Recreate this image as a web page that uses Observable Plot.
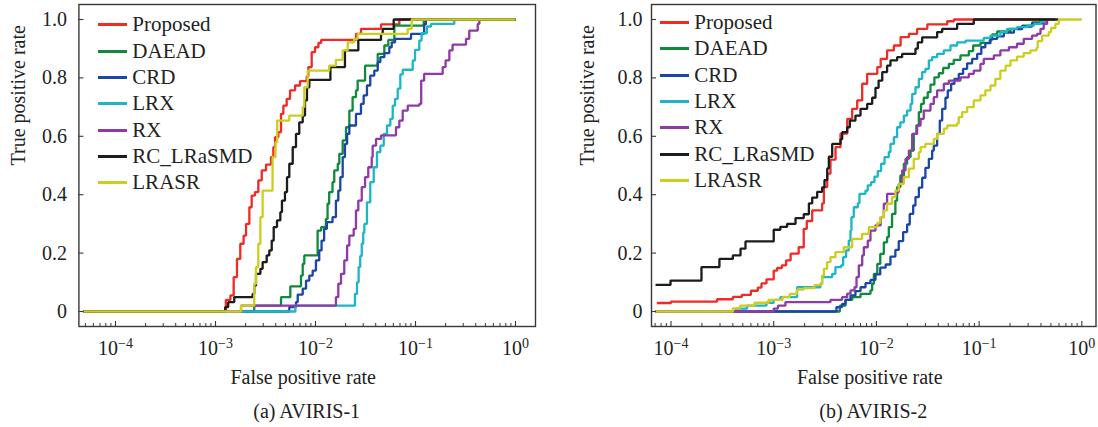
<!DOCTYPE html>
<html>
<head>
<meta charset="utf-8">
<script src="https://cdn.jsdelivr.net/npm/d3@7"></script>
<script src="https://cdn.jsdelivr.net/npm/@observablehq/plot@0.6"></script>
<style>
  html, body { margin: 0; padding: 0; background: #fff; }
  #chart { position: relative; width: 1098px; height: 427px; font-family: "Liberation Serif", "Times New Roman", serif; color: #222; overflow: hidden; }
  .panel { position: absolute; top: 0; }
  .panel svg { display: block; overflow: visible; }
  .legend { position: absolute; }
  .legend .row { display: flex; align-items: center; height: 26.33px; font-size: 21px; white-space: nowrap; }
  .legend .swatch { width: 28.5px; height: 3px; margin-right: 5.8px; flex: none; }
  .caption { position: absolute; top: 399px; text-align: center; font-size: 20px; line-height: 24px; white-space: nowrap; }
</style>
</head>
<body>
<div id="chart"></div>
<script>
// Detection methods, in legend (and drawing) order
const methods = ["Proposed", "DAEAD", "CRD", "LRX", "RX", "RC_LRaSMD", "LRASR"];
const colors  = ["#ee2b24", "#0e8a3d", "#1b46a6", "#1cb6c6", "#8f3aa7", "#1c1c1c", "#cdcd1f"];

const xMajorTicks = [1e-4, 1e-3, 1e-2, 1e-1, 1];
const yTicks = [0, 0.2, 0.4, 0.6, 0.8, 1.0];
const yTickLabels = ["0", "0.2", "0.4", "0.6", "0.8", "1.0"];
const minorMantissas = [2, 3, 4, 5, 6, 7, 8, 9];
const minorDecades = [1e-5, 1e-4, 1e-3, 1e-2, 1e-1];

const xTitle = "False positive rate";
const yTitle = "True positive rate";
const captions = ["(a) AVIRIS-1", "(b) AVIRIS-2"];

// ROC curves, [false positive rate, true positive rate]
// (a) AVIRIS-1
const aviris1Proposed = [[4.8e-5,0],[1.27e-3,0.04],[1.41e-3,0.055],[1.52e-3,0.118],[1.64e-3,0.18],[1.77e-3,0.232],[1.91e-3,0.26],[2.02e-3,0.30],[2.18e-3,0.357],[2.30e-3,0.397],[2.48e-3,0.409],[2.68e-3,0.449],[2.90e-3,0.483],[3.20e-3,0.503],[3.59e-3,0.529],[3.79e-3,0.563],[3.94e-3,0.597],[4.25e-3,0.614],[4.52e-3,0.677],[4.77e-3,0.705],[5.15e-3,0.728],[5.56e-3,0.757],[6.24e-3,0.774],[7.00e-3,0.789],[8.17e-3,0.805],[8.48e-3,0.837],[9.16e-3,0.888],[9.89e-3,0.905],[1.07e-2,0.92],[1.14e-2,0.93],[2.54e-2,0.951],[2.85e-2,0.968],[4.52e-2,0.983],[6.89e-2,1],[1,1]];
const aviris1DAEAD = [[4.8e-5,0],[2.44e-3,0.02],[4.52e-3,0.049],[5.60e-3,0.086],[7.16e-3,0.123],[7.45e-3,0.163],[7.73e-3,0.192],[1.05e-2,0.277],[1.14e-2,0.289],[1.27e-2,0.317],[1.32e-2,0.369],[1.37e-2,0.409],[1.48e-2,0.443],[1.54e-2,0.483],[1.67e-2,0.506],[1.73e-2,0.54],[1.87e-2,0.586],[2.02e-2,0.631],[2.18e-2,0.688],[2.35e-2,0.734],[2.54e-2,0.757],[2.64e-2,0.791],[3.13e-2,0.842],[4.19e-2,0.882],[4.88e-2,0.911],[5.35e-2,0.93],[6.14e-2,0.979],[0.121,1],[1,1]];
const aviris1CRD = [[4.8e-5,0],[5.47e-3,0.015],[6.38e-3,0.032],[6.64e-3,0.058],[7.45e-3,0.078],[8.04e-3,0.106],[8.67e-3,0.123],[9.37e-3,0.14],[1.01e-2,0.175],[1.09e-2,0.209],[1.15e-2,0.243],[1.22e-2,0.283],[1.30e-2,0.306],[1.48e-2,0.323],[1.60e-2,0.38],[1.69e-2,0.414],[1.77e-2,0.46],[1.87e-2,0.529],[1.97e-2,0.574],[2.07e-2,0.608],[2.18e-2,0.637],[2.54e-2,0.677],[2.85e-2,0.711],[3.03e-2,0.74],[3.27e-2,0.774],[3.53e-2,0.808],[3.87e-2,0.825],[4.19e-2,0.854],[4.45e-2,0.871],[4.88e-2,0.885],[5.47e-2,0.905],[5.78e-2,0.922],[6.24e-2,0.934],[9.02e-2,0.951],[0.122,0.983],[0.127,1],[1,1]];
const aviris1LRX = [[4.8e-5,0],[6.30e-3,0.02],[2.48e-2,0.06],[2.60e-2,0.10],[2.70e-2,0.152],[2.80e-2,0.19],[2.90e-2,0.232],[3.00e-2,0.27],[3.08e-2,0.30],[3.27e-2,0.374],[3.53e-2,0.443],[3.82e-2,0.494],[4.12e-2,0.546],[4.45e-2,0.568],[4.81e-2,0.608],[5.19e-2,0.637],[5.60e-2,0.66],[5.92e-2,0.705],[6.24e-2,0.728],[6.64e-2,0.763],[7.05e-2,0.812],[7.45e-2,0.828],[9.38e-2,0.86],[9.89e-2,0.896],[0.109,0.928],[0.115,0.953],[0.130,0.976],[0.143,0.985],[0.244,1],[1,1]];
const aviris1RX = [[4.8e-5,0],[1.80e-3,0.02],[1.60e-2,0.049],[1.69e-2,0.095],[1.80e-2,0.129],[1.94e-2,0.175],[2.07e-2,0.226],[2.18e-2,0.26],[2.41e-2,0.283],[2.54e-2,0.346],[2.68e-2,0.38],[2.90e-2,0.426],[3.13e-2,0.46],[3.37e-2,0.494],[3.65e-2,0.529],[3.73e-2,0.568],[4.03e-2,0.591],[4.52e-2,0.603],[6.38e-2,0.631],[6.89e-2,0.654],[7.45e-2,0.688],[8.36e-2,0.705],[0.109,0.711],[0.114,0.791],[0.122,0.814],[0.187,0.837],[0.200,0.86],[0.218,0.894],[0.235,0.914],[0.320,0.934],[0.345,0.962],[0.419,0.985],[0.435,1],[1,1]];
const aviris1RCLRaSMD = [[4.8e-5,0],[1.25e-3,0.015],[1.34e-3,0.032],[1.54e-3,0.049],[2.35e-3,0.06],[2.44e-3,0.089],[2.54e-3,0.129],[2.81e-3,0.146],[2.96e-3,0.169],[3.25e-3,0.192],[3.45e-3,0.209],[3.65e-3,0.243],[3.82e-3,0.289],[4.12e-3,0.312],[4.45e-3,0.34],[4.62e-3,0.38],[4.95e-3,0.409],[5.19e-3,0.46],[5.47e-3,0.506],[5.92e-3,0.563],[6.38e-3,0.608],[6.88e-3,0.648],[7.45e-3,0.671],[7.85e-3,0.723],[8.22e-3,0.768],[8.67e-3,0.793],[1.41e-2,0.837],[1.97e-2,0.894],[2.68e-2,0.93],[4.52e-2,0.951],[4.70e-2,0.968],[6.05e-2,1],[1,1]];
const aviris1LRASR = [[4.8e-5,0],[1.80e-3,0.02],[2.44e-3,0.095],[2.54e-3,0.152],[2.68e-3,0.232],[2.81e-3,0.323],[2.96e-3,0.414],[3.72e-3,0.529],[3.98e-3,0.58],[4.14e-3,0.654],[5.47e-3,0.671],[7.45e-3,0.70],[7.73e-3,0.768],[8.35e-3,0.825],[1.37e-2,0.842],[1.60e-2,0.862],[1.87e-2,0.894],[2.10e-2,0.922],[2.44e-2,0.934],[2.64e-2,0.951],[8.36e-2,0.968],[9.16e-2,1],[1,1]];

// (b) AVIRIS-2
const aviris2Proposed = [[7.28e-5,0.029],[1.0e-4,0.034],[2.81e-4,0.042],[4.0e-4,0.05],[4.9e-4,0.057],[6.0e-4,0.071],[7.0e-4,0.082],[7.6e-4,0.096],[8.5e-4,0.11],[1.0e-3,0.14],[1.08e-3,0.149],[1.2e-3,0.158],[1.32e-3,0.175],[1.46e-3,0.198],[1.75e-3,0.22],[1.96e-3,0.283],[2.1e-3,0.31],[2.37e-3,0.346],[2.96e-3,0.37],[3.08e-3,0.426],[3.32e-3,0.472],[3.57e-3,0.52],[4.0e-3,0.563],[4.47e-3,0.609],[5.2e-3,0.66],[5.81e-3,0.694],[6.5e-3,0.723],[7.27e-3,0.78],[8.13e-3,0.814],[1.02e-2,0.837],[1.10e-2,0.865],[1.27e-2,0.894],[1.48e-2,0.911],[1.72e-2,0.94],[2.07e-2,0.951],[2.49e-2,0.968],[3.13e-2,0.983],[4.89e-2,0.994],[5.68e-2,1],[0.55,1]];
const aviris2DAEAD = [[7.07e-5,0],[4.4e-3,0.02],[5.0e-3,0.04],[5.81e-3,0.049],[7.0e-3,0.06],[8.75e-3,0.072],[9.09e-3,0.095],[9.44e-3,0.129],[1.02e-2,0.163],[1.09e-2,0.197],[1.18e-2,0.237],[1.27e-2,0.255],[1.32e-2,0.289],[1.42e-2,0.334],[1.53e-2,0.38],[1.59e-2,0.426],[1.71e-2,0.466],[1.85e-2,0.506],[1.99e-2,0.529],[2.15e-2,0.551],[2.31e-2,0.608],[2.45e-2,0.637],[2.59e-2,0.683],[2.72e-2,0.711],[2.89e-2,0.732],[3.16e-2,0.751],[3.36e-2,0.777],[3.67e-2,0.802],[4.05e-2,0.816],[4.46e-2,0.834],[5.07e-2,0.848],[5.66e-2,0.862],[6.58e-2,0.877],[7.94e-2,0.892],[8.75e-2,0.911],[0.103,0.92],[0.127,0.93],[0.134,0.949],[0.150,0.959],[0.202,0.968],[0.262,0.979],[0.328,0.99],[0.396,1]];
const aviris2CRD = [[7.07e-5,0],[4.08e-3,0.015],[4.63e-3,0.026],[5.0e-3,0.04],[5.59e-3,0.055],[6.25e-3,0.07],[7.0e-3,0.083],[7.83e-3,0.097],[8.75e-3,0.108],[9.79e-3,0.127],[1.09e-2,0.15],[1.23e-2,0.161],[1.37e-2,0.188],[1.53e-2,0.211],[1.65e-2,0.241],[1.82e-2,0.272],[1.99e-2,0.298],[2.11e-2,0.334],[2.28e-2,0.363],[2.40e-2,0.392],[2.59e-2,0.424],[2.79e-2,0.458],[3.0e-2,0.492],[3.24e-2,0.523],[3.49e-2,0.551],[3.62e-2,0.568],[3.90e-2,0.608],[4.14e-2,0.654],[4.37e-2,0.694],[4.70e-2,0.732],[4.95e-2,0.757],[5.34e-2,0.78],[5.75e-2,0.797],[6.34e-2,0.814],[6.98e-2,0.831],[7.64e-2,0.85],[8.55e-2,0.865],[9.57e-2,0.882],[0.105,0.905],[0.115,0.919],[0.129,0.934],[0.150,0.942],[0.174,0.955],[0.218,0.967],[0.262,0.976],[0.328,0.987],[0.426,1]];
const aviris2LRX = [[7.07e-5,0],[4.3e-4,0.01],[5.5e-4,0.02],[8.5e-4,0.03],[1.0e-3,0.04],[1.16e-3,0.049],[1.69e-3,0.083],[2.85e-3,0.095],[2.96e-3,0.118],[3.71e-3,0.129],[3.99e-3,0.152],[4.53e-3,0.158],[4.74e-3,0.186],[5.07e-3,0.209],[5.38e-3,0.243],[5.59e-3,0.277],[5.71e-3,0.323],[6.02e-3,0.357],[6.59e-3,0.371],[6.84e-3,0.403],[7.82e-3,0.414],[8.24e-3,0.432],[8.88e-3,0.443],[9.57e-3,0.462],[1.03e-2,0.481],[1.11e-2,0.506],[1.20e-2,0.529],[1.32e-2,0.546],[1.37e-2,0.574],[1.48e-2,0.597],[1.59e-2,0.631],[1.71e-2,0.648],[1.85e-2,0.671],[1.99e-2,0.688],[2.15e-2,0.711],[2.23e-2,0.745],[2.40e-2,0.768],[2.59e-2,0.797],[2.79e-2,0.82],[3.0e-2,0.831],[3.24e-2,0.86],[3.49e-2,0.871],[3.90e-2,0.882],[4.53e-2,0.894],[5.26e-2,0.911],[6.11e-2,0.922],[7.4e-2,0.928],[0.111,0.937],[0.129,0.945],[0.161,0.957],[0.187,0.968],[0.234,0.974],[0.294,0.979],[0.341,0.985],[0.396,0.991],[0.442,1]];
const aviris2RX = [[7.07e-5,0],[1.0e-3,0.01],[1.1e-3,0.02],[1.3e-3,0.032],[3.57e-3,0.04],[4.63e-3,0.049],[5.19e-3,0.061],[5.59e-3,0.072],[6.12e-3,0.083],[6.40e-3,0.118],[6.74e-3,0.158],[7.27e-3,0.192],[7.54e-3,0.22],[8.24e-3,0.243],[8.75e-3,0.277],[9.79e-3,0.295],[1.10e-2,0.323],[1.18e-2,0.369],[1.27e-2,0.403],[1.59e-2,0.409],[1.65e-2,0.437],[1.78e-2,0.483],[1.92e-2,0.523],[2.07e-2,0.551],[2.23e-2,0.608],[2.49e-2,0.637],[2.69e-2,0.66],[2.89e-2,0.688],[3.36e-2,0.711],[3.62e-2,0.734],[3.90e-2,0.757],[4.53e-2,0.78],[5.07e-2,0.791],[6.58e-2,0.802],[7.94e-2,0.814],[8.87e-2,0.825],[0.103,0.848],[0.111,0.865],[0.139,0.877],[0.161,0.894],[0.195,0.905],[0.234,0.917],[0.272,0.934],[0.328,0.945],[0.367,0.951],[0.396,0.968],[0.426,0.985],[0.459,1]];
const aviris2RCLRaSMD = [[7.07e-5,0.091],[9.89e-5,0.106],[1.98e-4,0.152],[2.96e-4,0.18],[4.0e-4,0.192],[4.75e-4,0.215],[5.31e-4,0.24],[1.0e-3,0.28],[1.16e-3,0.29],[1.35e-3,0.30],[1.63e-3,0.32],[1.96e-3,0.333],[2.2e-3,0.37],[2.37e-3,0.39],[2.65e-3,0.41],[2.96e-3,0.425],[3.12e-3,0.45],[3.32e-3,0.49],[3.44e-3,0.53],[3.71e-3,0.574],[4.47e-3,0.59],[4.64e-3,0.614],[5.19e-3,0.631],[5.51e-3,0.654],[6.25e-3,0.671],[7.0e-3,0.694],[8.13e-3,0.711],[9.09e-3,0.732],[9.79e-3,0.766],[1.05e-2,0.791],[1.14e-2,0.82],[1.27e-2,0.842],[1.37e-2,0.86],[1.59e-2,0.871],[1.78e-2,0.882],[2.40e-2,0.90],[2.53e-2,0.922],[2.79e-2,0.939],[3.90e-2,0.957],[4.37e-2,0.968],[6.11e-2,0.985],[8.87e-2,1],[0.59,1]];
const aviris2LRASR = [[7.07e-5,0],[4.0e-4,0.011],[4.7e-4,0.02],[6.5e-4,0.03],[8.9e-4,0.04],[1.22e-3,0.05],[1.43e-3,0.06],[1.68e-3,0.075],[1.96e-3,0.08],[2.49e-3,0.09],[2.85e-3,0.095],[2.96e-3,0.123],[3.08e-3,0.146],[3.31e-3,0.169],[3.57e-3,0.186],[3.99e-3,0.203],[4.81e-3,0.22],[5.80e-3,0.249],[7.26e-3,0.266],[8.43e-3,0.289],[1.02e-2,0.303],[1.09e-2,0.323],[1.18e-2,0.346],[1.27e-2,0.369],[1.42e-2,0.392],[1.53e-2,0.414],[1.65e-2,0.437],[1.85e-2,0.46],[2.07e-2,0.489],[2.31e-2,0.523],[2.59e-2,0.546],[2.69e-2,0.563],[3.0e-2,0.574],[3.62e-2,0.591],[3.90e-2,0.608],[4.53e-2,0.626],[4.89e-2,0.637],[6.11e-2,0.645],[6.34e-2,0.666],[6.84e-2,0.683],[7.64e-2,0.70],[8.87e-2,0.723],[0.103,0.74],[0.115,0.757],[0.129,0.774],[0.144,0.797],[0.161,0.825],[0.181,0.842],[0.202,0.86],[0.234,0.873],[0.272,0.885],[0.316,0.894],[0.362,0.903],[0.372,0.926],[0.411,0.945],[0.477,0.957],[0.502,0.971],[0.553,0.985],[0.597,1],[1,1]];

const aviris1 = [aviris1Proposed, aviris1DAEAD, aviris1CRD, aviris1LRX, aviris1RX, aviris1RCLRaSMD, aviris1LRASR];
const aviris2 = [aviris2Proposed, aviris2DAEAD, aviris2CRD, aviris2LRX, aviris2RX, aviris2RCLRaSMD, aviris2LRASR];

const SVG_NS = "http://www.w3.org/2000/svg";
const ink = "#383838";

// Turn "10^−k" tick labels into a base with a raised exponent
function raiseExponents(svg) {
  svg.querySelectorAll('g[aria-label="x-axis tick label"] text').forEach((t) => {
    const parts = t.textContent.split("^");
    if (parts.length < 2) return;
    t.textContent = parts[0];
    const sup = document.createElementNS(SVG_NS, "tspan");
    sup.setAttribute("dy", "-6.5");
    sup.setAttribute("font-size", "14");
    sup.textContent = parts[1];
    t.appendChild(sup);
  });
}

function rocPanel({series, width, marginLeft, marginRight, logDomain, yTitleOffset, yTickPadding}) {
  const height = 395, marginTop = 4, marginBottom = 69;
  const plotH = height - marginTop - marginBottom;
  const plotW = width - marginLeft - marginRight;
  const xDomain = logDomain.map((e) => Math.pow(10, e));
  const rows = methods.flatMap((m, i) => series[i].map(([fpr, tpr]) => ({method: m, fpr, tpr})));
  const minorTicks = minorDecades
    .flatMap((d) => minorMantissas.map((k) => k * d))
    .filter((v) => v >= xDomain[0] && v <= xDomain[1]);

  const svg = Plot.plot({
    width, height, marginLeft, marginRight, marginTop, marginBottom,
    style: {fontFamily: '"Liberation Serif", "Times New Roman", serif', fontSize: "20px", color: "#222", background: "transparent", overflow: "visible"},
    x: {type: "log", domain: xDomain, label: null},
    y: {domain: [-0.0514, 1.0514], label: null},
    color: {domain: methods, range: colors},
    marks: [
      Plot.line(rows, {x: "fpr", y: "tpr", z: "method", stroke: "method", curve: "step-after", strokeWidth: 2.3, strokeLinejoin: "miter", strokeLinecap: "butt"}),
      Plot.frame({stroke: ink, strokeWidth: 1.4}),
      Plot.tickX(xMajorTicks, {x: (d) => d, stroke: ink, strokeWidth: 1.1, insetTop: plotH - 5}),
      Plot.tickX(minorTicks, {x: (d) => d, stroke: ink, strokeWidth: 1, insetTop: plotH - 3}),
      Plot.tickY(yTicks, {y: (d) => d, stroke: ink, strokeWidth: 1.1, insetRight: plotW - 5}),
      Plot.axisX(xMajorTicks, {tickSize: 0, tickPadding: 14, fontSize: 20, label: null,
        tickFormat: (d) => "10^" + String(Math.round(Math.log10(d))).replace("-", "\u2212")}),
      Plot.axisY(yTicks, {tickSize: 0, tickPadding: yTickPadding, fontSize: 20, label: null,
        tickFormat: (d) => yTickLabels[yTicks.indexOf(d)]}),
      Plot.text([xTitle], {text: (d) => d, frameAnchor: "bottom", dy: 51, dx: -4, fontSize: 20, lineAnchor: "middle", fill: "#222"}),
      Plot.text([yTitle], {text: (d) => d, frameAnchor: "left", dx: yTitleOffset, rotate: -90, fontSize: 20, lineAnchor: "middle", fill: "#222"})
    ]
  });
  raiseExponents(svg);
  return svg;
}

function legendBox(left, top) {
  const box = document.createElement("div");
  box.className = "legend";
  box.style.left = left + "px";
  box.style.top = top + "px";
  methods.forEach((m, i) => {
    const row = document.createElement("div");
    row.className = "row";
    const sw = document.createElement("span");
    sw.className = "swatch";
    sw.style.background = colors[i];
    const label = document.createElement("span");
    label.textContent = m;
    row.append(sw, label);
    box.appendChild(row);
  });
  return box;
}

function caption(text, left, width) {
  const c = document.createElement("div");
  c.className = "caption";
  c.style.left = left + "px";
  c.style.width = width + "px";
  c.textContent = text;
  return c;
}

const chart = document.getElementById("chart");

// Panel (a)
const panelA = document.createElement("div");
panelA.className = "panel";
panelA.style.left = "0px";
panelA.appendChild(rocPanel({series: aviris1, width: 545, marginLeft: 78.4, marginRight: 10, logDomain: [-4.366, 0.2], yTitleOffset: -60, yTickPadding: 12}));
chart.appendChild(panelA);
chart.appendChild(legendBox(98, 11.8));
chart.appendChild(caption(captions[0], 78.4, 456.6));

// Panel (b)
const panelB = document.createElement("div");
panelB.className = "panel";
panelB.style.left = "545px";
panelB.appendChild(rocPanel({series: aviris2, width: 553, marginLeft: 106, marginRight: 2.5, logDomain: [-4.19, 0.138], yTitleOffset: -63.5, yTickPadding: 9}));
chart.appendChild(panelB);
chart.appendChild(legendBox(660, 9.5));
chart.appendChild(caption(captions[1], 651, 444.5));
</script>
</body>
</html>
